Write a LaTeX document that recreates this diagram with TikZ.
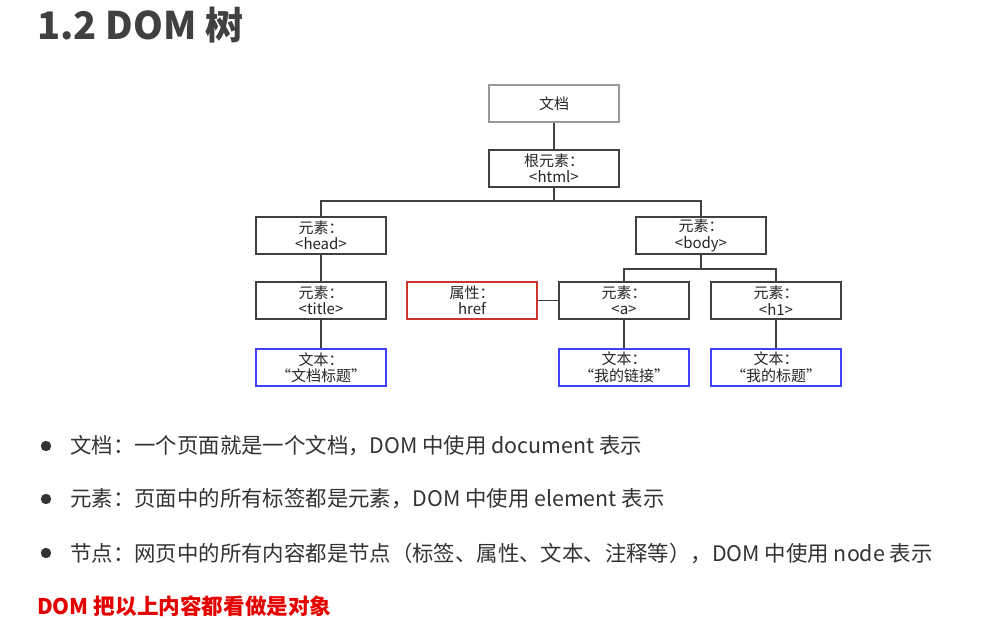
\documentclass[tikz,border=0pt]{standalone}
\usepackage{fontspec}
\setmainfont{Noto Sans CJK SC}
\begin{document}
\begin{tikzpicture}[x=1pt,y=-1pt,
  box/.style={draw=black!75, line width=1.3pt, minimum width=130pt, minimum height=37pt, inner sep=0pt, align=center, font=\fontsize{15}{16.5}\selectfont, text=black!85},
  docbox/.style={box, draw=black!40, line width=2pt},
  redbox/.style={box, draw=red!75!black!80, line width=1.3pt},
  bluebox/.style={box, draw=blue!75, line width=1.3pt},
  conn/.style={draw=black!75, line width=1.3pt},
  bul/.style={anchor=west, font=\fontsize{21.4}{24}\selectfont, text=black!80, inner sep=0pt}]
\useasboundingbox (0,0) rectangle (988,620);
\fill[white] (0,0) rectangle (988,620);
\node[anchor=west, font=\fontsize{38}{44}\selectfont\bfseries, text=black!75, inner sep=0pt] (title) at (37,25) {1.2 DOM 树};

\node[docbox] (doc) at (554,103.5) {文档};
\node[box] (html) at (554,168.5) {根元素：\\<html>};
\node[box] (head) at (321,235.5) {元素：\\<head>};
\node[box] (body) at (701,235.5) {元素：\\<body>};
\node[box] (tit) at (321,300.5) {元素：\\<title>};
\node[redbox] (href) at (472,300.5) {属性：\\href};
\node[box] (a) at (624,300.5) {元素：\\<a>};
\node[box] (h1) at (776,300.5) {元素：\\<h1>};
\node[bluebox] (t1) at (321,367.5) {文本：\\“文档标题”};
\node[bluebox] (t2) at (624,367.5) {文本：\\“我的链接”};
\node[bluebox] (t3) at (776,367.5) {文本：\\“我的标题”};

\draw[conn] (doc.south) -- (html.north);
\coordinate (j1) at (554,201);
\draw[conn] (html.south) -- (j1);
\draw[conn] (head.north) |- (j1) -| (body.north);
\draw[conn] (head.south) -- (tit.north);
\draw[conn] (tit.south) -- (t1.north);
\coordinate (j2) at (701,269);
\draw[conn] (body.south) -- (j2);
\draw[conn] (a.north) |- (j2) -| (h1.north);
\draw[conn] (href.east) -- (a.west);
\draw[conn] (a.south) -- (t2.north);
\draw[conn] (h1.south) -- (t3.north);

\fill[black!80] (46,446) circle (5.2pt);
\fill[black!80] (46,499) circle (5.2pt);
\fill[black!80] (46,553) circle (5.2pt);
\node[bul] (b1) at (70,446) {文档：一个页面就是一个文档，DOM 中使用 document 表示};
\node[bul] (b2) at (70,499) {元素：页面中的所有标签都是元素，DOM 中使用 element 表示};
\node[bul] (b3) at (70,553) {节点：网页中的所有内容都是节点（标签、属性、文本、注释等），DOM 中使用 node 表示};
\node[anchor=west, font=\fontsize{21.6}{25}\selectfont\bfseries, text=red!90!black, inner sep=0pt] (obj) at (37,606) {DOM 把以上内容都看做是对象};
\end{tikzpicture}
\end{document}
